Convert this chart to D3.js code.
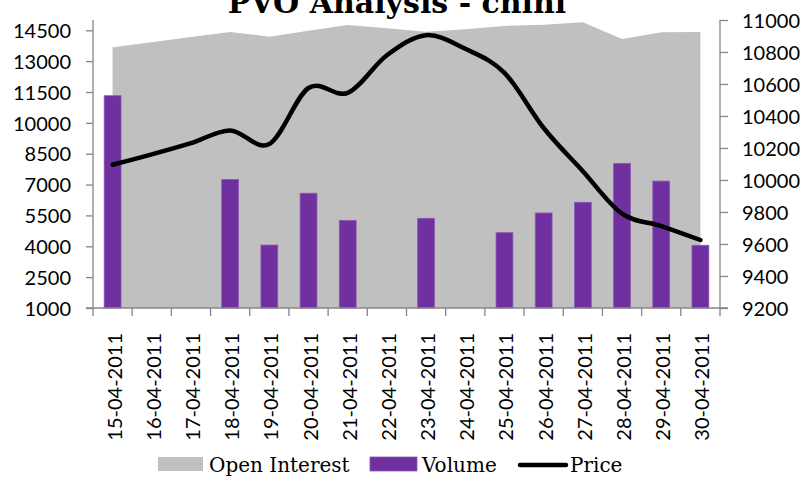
<!DOCTYPE html>
<html><head><meta charset="utf-8">
<script src="https://cdn.jsdelivr.net/npm/d3@7"></script>
<style>body{margin:0;background:#fff}svg{display:block}</style>
</head><body><svg id="c" width="806" height="477"></svg>
<script>
const dates = ["15-04-2011","16-04-2011","17-04-2011","18-04-2011","19-04-2011","20-04-2011","21-04-2011","22-04-2011","23-04-2011","24-04-2011","25-04-2011","26-04-2011","27-04-2011","28-04-2011","29-04-2011","30-04-2011"];
const openInterest = [13670, 13920, 14170, 14420, 14190, 14480, 14760, 14600, 14430, 14550, 14710, 14770, 14890, 14080, 14400, 14420];
const volume = [11320, null, null, 7250, 4060, 6580, 5260, null, 5360, null, 4660, 5620, 6140, 8030, 7170, 4050];
const price = [10095, 10160, 10230, 10310, 10225, 10575, 10545, 10780, 10905, 10820, 10670, 10325, 10055, 9790, 9712, 9625];
const leftTicks = [1000, 2500, 4000, 5500, 7000, 8500, 10000, 11500, 13000, 14500];
const rightTicks = [9200, 9400, 9600, 9800, 10000, 10200, 10400, 10600, 10800, 11000];
const titleText = "PVO Analysis - chini";
const seriesNames = ["Open Interest", "Volume", "Price"];

const svg = d3.select("#c");
const L = 93, R = 720, T = 20, B = 308;
const axisColor = "#868686";
const sansFont = "Lato, 'Open Sans', sans-serif";
const serifFont = "'DejaVu Serif', serif";

const x = d3.scaleBand().domain(dates).range([L, R]).paddingInner(0.57).paddingOuter(0.285);
const cx = d => x(d) + x.bandwidth() / 2;
const yL = d3.scaleLinear().domain([1000, 15000]).range([B, T]);
const yR = d3.scaleLinear().domain([9200, 11000]).range([B, T]);

// Open interest area
const area = d3.area()
  .x((d, i) => cx(dates[i]))
  .y0(B)
  .y1(d => yL(d));
svg.append("path").datum(openInterest).attr("d", area).attr("fill", "#C0C0C0");

// Volume bars
svg.append("g").selectAll("rect")
  .data(dates.map((d, i) => ({d, v: volume[i]})).filter(o => o.v != null))
  .join("rect")
  .attr("x", o => x(o.d))
  .attr("width", x.bandwidth())
  .attr("y", o => yL(o.v))
  .attr("height", o => B - yL(o.v))
  .attr("fill", "#7030A0")
  .attr("stroke", "#8A5AB5")
  .attr("stroke-width", 0.8);

// Price line
const line = d3.line()
  .x((d, i) => cx(dates[i]))
  .y(d => yR(d))
  .curve(d3.curveCardinal.tension(0));
svg.append("path").datum(price).attr("d", line)
  .attr("fill", "none").attr("stroke", "#000").attr("stroke-width", 4.5)
  .attr("stroke-linecap", "round").attr("stroke-linejoin", "round");

// Left axis
const fmt = d3.format("d");
const gL = svg.append("g").attr("transform", `translate(${L},0)`)
  .call(d3.axisLeft(yL).tickValues(leftTicks).tickFormat(fmt).tickSize(7).tickSizeOuter(0).tickPadding(15));
// Right axis
const gR = svg.append("g").attr("transform", `translate(${R},0)`)
  .call(d3.axisRight(yR).tickValues(rightTicks).tickFormat(fmt).tickSize(8).tickSizeOuter(0).tickPadding(14));
[gL, gR].forEach(g => {
  g.attr("font-family", sansFont).attr("font-size", 20);
  g.select(".domain").attr("stroke", axisColor).attr("stroke-width", 1.3);
  g.selectAll(".tick line").attr("stroke", axisColor).attr("stroke-width", 1.3);
  g.selectAll(".tick text").attr("fill", "#000").attr("dy", "0.36em");
});
gL.select(".domain").attr("d", `M0,${T}V${B}`);
gR.select(".domain").attr("d", `M0,${T}V${B}`);

// X axis: labels at centers, ticks at boundaries
const gX = svg.append("g").attr("transform", `translate(0,${B})`)
  .call(d3.axisBottom(x).tickSize(0).tickPadding(0));
gX.attr("font-family", sansFont).attr("font-size", 20);
gX.select(".domain").attr("stroke", axisColor).attr("stroke-width", 1.3).attr("d", `M${L - 7},0H${R + 8}`);
gX.selectAll(".tick text")
  .attr("fill", "#000")
  .attr("text-anchor", "end")
  .attr("transform", "rotate(-90)")
  .attr("x", -25).attr("y", 0).attr("dy", "0.45em");
const step = x.step();
gX.append("g").selectAll("line")
  .data(d3.range(dates.length + 1))
  .join("line")
  .attr("x1", i => x.range()[0] + i * step)
  .attr("x2", i => x.range()[0] + i * step)
  .attr("y1", 0).attr("y2", 8)
  .attr("stroke", axisColor).attr("stroke-width", 1.3);

// Title
svg.append("text").attr("x", 397).attr("y", 12.5).attr("text-anchor", "middle")
  .attr("font-family", serifFont).attr("font-weight", "bold").attr("font-size", 30)
  .text(titleText);

// Legend
const lg = svg.append("g").attr("font-family", serifFont).attr("font-size", 20).attr("fill", "#000");
lg.append("rect").attr("x", 158).attr("y", 457).attr("width", 45).attr("height", 14).attr("fill", "#C0C0C0");
lg.append("text").attr("x", 209).attr("y", 472).text(seriesNames[0]);
lg.append("rect").attr("x", 370).attr("y", 457).attr("width", 47).attr("height", 14).attr("fill", "#7030A0").attr("stroke", "#8A5AB5").attr("stroke-width", 0.8);
lg.append("text").attr("x", 422).attr("y", 472).text(seriesNames[1]);
lg.append("line").attr("x1", 520).attr("x2", 566).attr("y1", 465).attr("y2", 465)
  .attr("stroke", "#000").attr("stroke-width", 4.5).attr("stroke-linecap", "round");
lg.append("text").attr("x", 570).attr("y", 472).text(seriesNames[2]);
</script>
</body></html>
